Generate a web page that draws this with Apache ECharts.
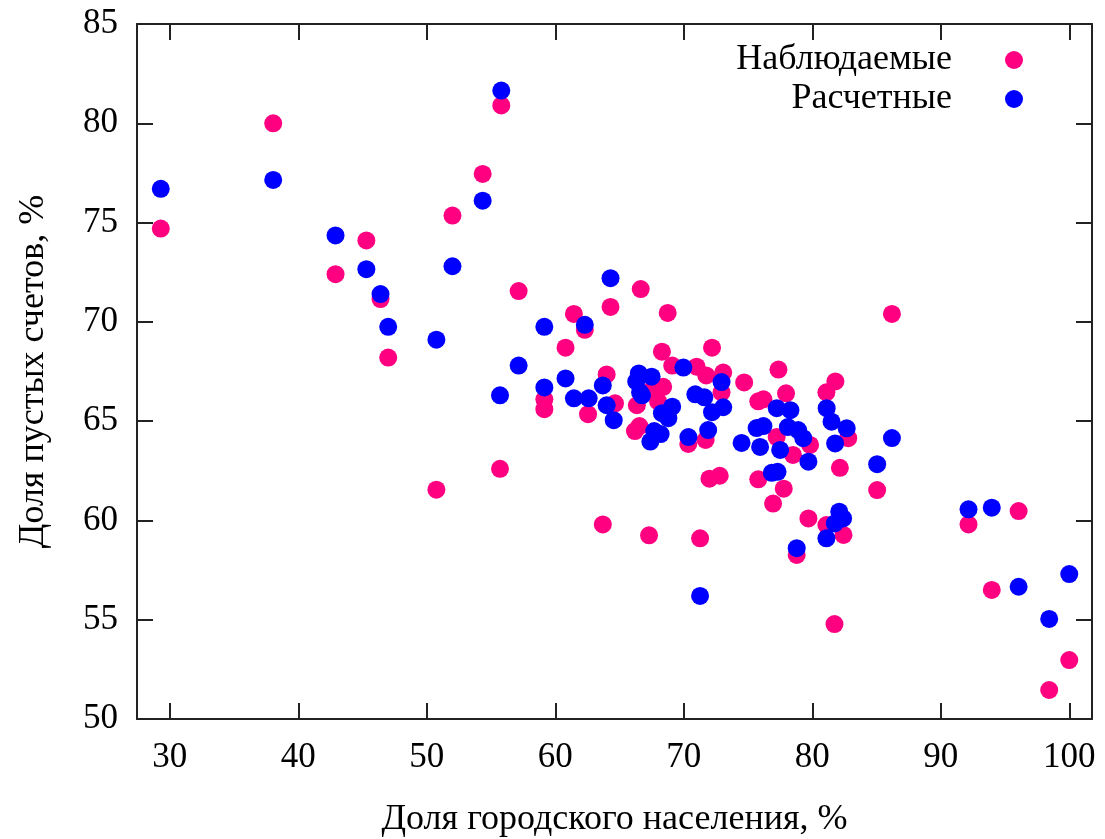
<!DOCTYPE html>
<html>
<head>
<meta charset="utf-8">
<script src="https://cdn.jsdelivr.net/npm/echarts@6/dist/echarts.min.js"></script>
<style>
  html, body { margin: 0; padding: 0; background: #fff; }
  #chart { width: 1105px; height: 839px; }
</style>
</head>
<body>
<div id="chart"></div>
<script>
// Share of urban population (%) vs. share of empty accounts (%)
const observedName = 'Наблюдаемые';
const predictedName = 'Расчетные';
const xTitle = 'Доля городского населения, %';
const yTitle = 'Доля пустых счетов, %';

const xTicks = [30, 40, 50, 60, 70, 80, 90, 100];
const yTicks = [50, 55, 60, 65, 70, 75, 80, 85];

// Observed values [urban share, empty accounts share]
const observed = [
  [29.3, 74.7], [38.05, 80.0], [42.9, 72.4], [45.3, 74.1], [46.4, 71.15],
  [47.0, 68.2], [50.75, 61.55], [52.0, 75.35], [54.35, 77.45], [55.7, 62.6],
  [55.8, 80.9], [57.15, 71.55], [59.15, 66.1], [59.15, 65.6], [60.8, 68.7],
  [61.45, 70.4], [62.3, 69.6], [62.55, 65.35], [63.7, 59.8], [64.0, 67.35],
  [64.3, 70.75], [64.65, 65.9], [66.2, 64.5], [66.55, 64.75], [66.35, 65.8],
  [66.65, 71.65], [67.3, 59.25], [67.6, 66.65], [68.0, 66.0], [68.3, 68.5],
  [68.4, 66.73], [68.75, 70.45], [69.1, 67.8], [70.35, 63.85], [71.0, 67.74],
  [71.27, 59.1], [71.7, 64.05], [71.75, 67.3], [72.0, 62.1], [72.2, 68.7],
  [72.8, 62.25], [72.94, 66.45], [73.07, 67.45], [74.7, 66.95], [75.8, 62.07],
  [75.8, 66.0], [76.2, 66.1], [76.95, 60.85], [77.23, 64.2], [77.37, 67.6],
  [77.78, 61.6], [77.96, 66.4], [78.5, 63.3], [78.79, 58.26], [79.7, 60.1],
  [79.83, 63.8], [81.1, 59.77], [81.1, 66.45], [81.73, 54.78], [81.8, 67.0],
  [82.15, 62.65], [82.43, 59.27], [82.8, 64.14], [85.05, 61.53], [86.2, 70.4],
  [92.16, 59.8], [93.97, 56.5], [96.06, 60.47], [98.44, 51.46], [100.0, 52.97]
];

// Model estimates [urban share, empty accounts share]
const predicted = [
  [29.3, 76.7], [38.05, 77.15], [42.9, 74.35], [45.3, 72.65], [46.4, 71.4],
  [47.0, 69.75], [50.75, 69.1], [52.0, 72.8], [54.35, 76.1], [55.7, 66.3],
  [55.8, 81.65], [57.15, 67.8], [59.15, 69.75], [59.15, 66.7], [60.8, 67.15],
  [61.45, 66.15], [62.3, 69.85], [62.6, 66.15], [63.7, 66.8], [64.0, 65.8],
  [64.3, 72.2], [64.55, 65.05], [66.3, 67.0], [66.5, 67.4], [66.6, 66.45],
  [66.75, 66.3], [67.4, 63.97], [67.5, 67.24], [67.7, 64.5], [68.2, 64.35],
  [68.3, 65.4], [68.8, 65.15], [69.1, 65.73], [69.97, 67.7], [70.36, 64.2],
  [70.9, 66.35], [71.27, 56.2], [71.6, 66.2], [71.9, 64.55], [72.2, 65.45],
  [72.94, 66.97], [73.07, 65.7], [74.5, 63.9], [75.67, 64.65], [75.94, 63.7],
  [76.2, 64.75], [76.85, 62.4], [77.3, 62.45], [77.24, 65.65], [77.5, 63.55],
  [78.1, 64.7], [78.3, 65.55], [78.79, 58.6], [78.9, 64.55], [79.3, 64.14],
  [79.7, 62.96], [81.1, 59.1], [81.12, 65.65], [81.5, 64.97], [81.75, 59.85],
  [81.78, 63.88], [82.1, 60.44], [82.4, 60.1], [82.68, 64.64], [85.05, 62.83],
  [86.2, 64.15], [92.16, 60.56], [93.97, 60.64], [96.06, 56.66], [98.44, 55.04],
  [100.0, 57.3]
];

const FONT = '"Liberation Serif", "DejaVu Serif", serif';
const INK = '#222';
const PINK = '#ff0080';
const BLUE = '#0000ff';
const TICK_SIZE = 35;
const TITLE_SIZE = 36;

const X_MIN = 27.45, X_MAX = 101.77;

const frameLine = { show: true, onZero: false, lineStyle: { color: INK, width: 2 } };
const innerTick = { show: true, inside: true, length: 16, lineStyle: { color: INK, width: 2 } };

const legendItem = (name, top) => ({
  data: [name], orient: 'vertical', align: 'right',
  right: 77, top: top, padding: 5, itemGap: 0,
  itemWidth: 114, itemHeight: 18, icon: 'circle',
  textStyle: { fontFamily: FONT, fontSize: TITLE_SIZE, color: '#000' }
});

const chart = echarts.init(document.getElementById('chart'), null, { renderer: 'canvas' });

chart.setOption({
  animation: false,
  backgroundColor: '#fff',
  grid: { left: 137, top: 24, right: 13, bottom: 120, containLabel: false, outerBoundsMode: 'none' },
  legend: [legendItem(observedName, 37), legendItem(predictedName, 76)],
  xAxis: [
    {
      type: 'value', position: 'bottom', min: X_MIN, max: X_MAX,
      name: xTitle, nameLocation: 'middle', nameGap: 83,
      nameTextStyle: { fontFamily: FONT, fontSize: TITLE_SIZE, color: '#000' },
      axisLine: frameLine,
      axisTick: Object.assign({ customValues: xTicks }, innerTick),
      axisLabel: { customValues: xTicks, margin: 21, fontFamily: FONT, fontSize: TICK_SIZE, color: '#000' },
      splitLine: { show: false }
    },
    {
      type: 'value', position: 'top', min: X_MIN, max: X_MAX,
      axisLine: frameLine,
      axisTick: Object.assign({ customValues: xTicks }, innerTick),
      axisLabel: { show: false },
      splitLine: { show: false }
    }
  ],
  yAxis: [
    {
      type: 'value', position: 'left', min: 50, max: 85, interval: 5,
      name: yTitle, nameLocation: 'middle', nameGap: 85,
      nameTextStyle: { fontFamily: FONT, fontSize: TITLE_SIZE, color: '#000' },
      axisLine: frameLine,
      axisTick: Object.assign({ customValues: yTicks }, innerTick),
      axisLabel: { customValues: yTicks, margin: 19, fontFamily: FONT, fontSize: TICK_SIZE, color: '#000' },
      splitLine: { show: false }
    },
    {
      type: 'value', position: 'right', min: 50, max: 85, interval: 5,
      axisLine: frameLine,
      axisTick: Object.assign({ customValues: yTicks }, innerTick),
      axisLabel: { show: false },
      splitLine: { show: false }
    }
  ],
  series: [
    {
      name: observedName, type: 'scatter', xAxisIndex: 0, yAxisIndex: 0,
      data: observed, symbol: 'circle', symbolSize: 18,
      itemStyle: { color: PINK, opacity: 1 }
    },
    {
      name: predictedName, type: 'scatter', xAxisIndex: 0, yAxisIndex: 0,
      data: predicted, symbol: 'circle', symbolSize: 18,
      itemStyle: { color: BLUE, opacity: 1 }
    }
  ]
});
</script>
</body>
</html>
